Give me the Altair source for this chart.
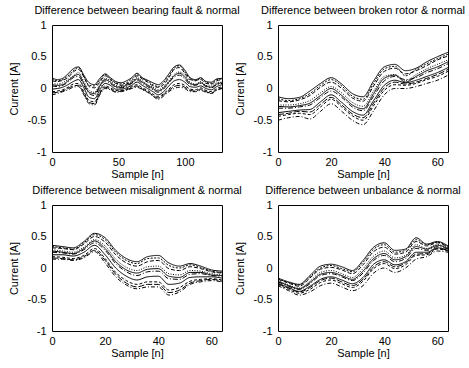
import altair as alt
import pandas as pd

FONT = "Liberation Sans, Arial, Helvetica, sans-serif"

# ---- Bearing fault (samples 0..128, read every 4 samples) ----
bearing_x = list(range(0, 129, 4))
bearing = {
    "c1": [0.17,0.14,0.16,0.23,0.31,0.34,0.21,0.09,0.06,0.16,0.23,0.17,0.11,0.09,0.12,0.17,0.24,0.17,0.13,0.09,0.06,0.12,0.23,0.34,0.37,0.29,0.17,0.14,0.17,0.11,0.10,0.15,0.16],
    "c2": [0.12,0.11,0.13,0.17,0.26,0.30,0.18,0.03,0.01,0.10,0.20,0.14,0.08,0.05,0.07,0.12,0.20,0.15,0.10,0.04,0.02,0.06,0.17,0.30,0.33,0.24,0.14,0.13,0.14,0.08,0.07,0.12,0.14],
    "c3": [0.08,0.07,0.09,0.14,0.20,0.25,0.11,-0.03,-0.06,0.06,0.16,0.12,0.05,0.03,0.06,0.10,0.17,0.12,0.06,0.02,-0.02,0.03,0.12,0.22,0.26,0.21,0.10,0.07,0.11,0.05,0.04,0.09,0.10],
    "c4": [0.04,0.03,0.05,0.10,0.17,0.19,0.05,-0.08,-0.11,0.02,0.12,0.08,0.02,0.01,0.03,0.08,0.13,0.08,0.03,-0.02,-0.06,-0.01,0.09,0.18,0.21,0.15,0.06,0.05,0.08,0.03,0.01,0.06,0.08],
    "c5": [-0.01,0.00,0.02,0.06,0.11,0.14,0.01,-0.14,-0.16,-0.02,0.08,0.05,-0.01,-0.01,0.01,0.05,0.10,0.05,0.00,-0.05,-0.10,-0.05,0.04,0.12,0.14,0.10,0.03,0.02,0.04,0.00,-0.02,0.03,0.06],
    "c6": [-0.05,-0.04,-0.02,0.02,0.07,0.08,-0.05,-0.19,-0.21,-0.06,0.04,0.01,-0.03,-0.03,-0.01,0.03,0.06,0.01,-0.03,-0.09,-0.13,-0.08,-0.01,0.06,0.08,0.05,-0.01,-0.02,0.01,-0.03,-0.05,0.00,0.03],
    "c7": [-0.10,-0.08,-0.05,-0.02,0.02,0.03,-0.10,-0.24,-0.26,-0.10,0.00,-0.02,-0.06,-0.05,-0.03,0.00,0.02,-0.02,-0.06,-0.12,-0.17,-0.12,-0.05,0.00,0.02,0.00,-0.05,-0.05,-0.03,-0.06,-0.08,-0.03,0.00],
    "c8": [0.15,0.12,0.14,0.20,0.28,0.33,0.19,0.05,0.04,0.13,0.22,0.15,0.09,0.07,0.09,0.15,0.22,0.16,0.12,0.06,0.03,0.09,0.20,0.32,0.36,0.26,0.16,0.12,0.16,0.10,0.08,0.14,0.15],
    "c9": [0.06,0.05,0.06,0.12,0.19,0.22,0.08,-0.06,-0.08,0.04,0.14,0.10,0.03,0.02,0.05,0.09,0.15,0.10,0.05,0.00,-0.04,0.01,0.10,0.20,0.24,0.18,0.08,0.06,0.09,0.04,0.02,0.07,0.09],
    "c10": [-0.07,-0.06,-0.04,0.00,0.04,0.05,-0.08,-0.22,-0.24,-0.08,0.02,-0.01,-0.05,-0.04,-0.02,0.01,0.04,-0.01,-0.05,-0.11,-0.15,-0.10,-0.03,0.03,0.05,0.02,-0.03,-0.04,-0.01,-0.05,-0.07,-0.02,0.01],
}

# ---- The other three panels (samples 0..64, read every 4 samples) ----
short_x = list(range(0, 65, 4))
rotor = {
    "c1": [-0.13,-0.16,-0.14,-0.04,0.08,0.17,0.07,-0.08,-0.13,0.12,0.34,0.38,0.28,0.32,0.42,0.50,0.57],
    "c2": [-0.19,-0.21,-0.18,-0.11,0.02,0.10,0.00,-0.15,-0.20,0.04,0.27,0.32,0.23,0.28,0.36,0.45,0.51],
    "c3": [-0.26,-0.26,-0.24,-0.19,-0.07,0.03,-0.07,-0.22,-0.28,-0.04,0.19,0.22,0.12,0.22,0.31,0.38,0.45],
    "c4": [-0.31,-0.31,-0.29,-0.26,-0.14,-0.04,-0.14,-0.29,-0.35,-0.12,0.12,0.19,0.14,0.17,0.25,0.31,0.39],
    "c5": [-0.38,-0.36,-0.34,-0.33,-0.21,-0.10,-0.22,-0.36,-0.42,-0.19,0.05,0.13,0.09,0.13,0.19,0.25,0.33],
    "c6": [-0.44,-0.41,-0.39,-0.41,-0.29,-0.17,-0.29,-0.43,-0.50,-0.27,-0.03,0.06,0.05,0.08,0.14,0.19,0.27],
    "c7": [-0.50,-0.46,-0.44,-0.48,-0.36,-0.24,-0.36,-0.50,-0.57,-0.35,-0.10,0.00,0.00,0.03,0.08,0.13,0.21],
    "c8": [-0.16,-0.19,-0.16,-0.08,0.05,0.14,0.04,-0.12,-0.17,0.08,0.31,0.35,0.20,0.30,0.39,0.47,0.54],
    "c9": [-0.28,-0.29,-0.27,-0.23,-0.11,0.00,-0.11,-0.26,-0.32,-0.08,0.16,0.21,0.10,0.19,0.28,0.34,0.42],
    "c10": [-0.41,-0.39,-0.36,-0.37,-0.25,-0.14,-0.26,-0.40,-0.46,-0.23,0.01,0.10,0.07,0.10,0.16,0.22,0.30],
}
misalign = {
    "c1": [0.36,0.34,0.32,0.42,0.55,0.48,0.28,0.15,0.10,0.18,0.20,0.08,0.03,0.07,0.03,-0.03,-0.05],
    "c2": [0.32,0.31,0.29,0.38,0.50,0.41,0.21,0.08,0.03,0.10,0.12,-0.01,-0.04,0.02,-0.01,-0.06,-0.08],
    "c3": [0.29,0.27,0.25,0.33,0.45,0.35,0.14,0.01,-0.04,0.02,0.03,-0.09,-0.11,-0.04,-0.05,-0.09,-0.11],
    "c4": [0.25,0.24,0.22,0.29,0.40,0.28,0.07,-0.06,-0.12,-0.06,-0.05,-0.17,-0.18,-0.10,-0.09,-0.12,-0.13],
    "c5": [0.21,0.21,0.19,0.25,0.36,0.21,0.00,-0.13,-0.19,-0.14,-0.13,-0.26,-0.24,-0.15,-0.14,-0.14,-0.16],
    "c6": [0.18,0.17,0.15,0.20,0.31,0.15,-0.07,-0.20,-0.26,-0.22,-0.22,-0.35,-0.31,-0.21,-0.18,-0.17,-0.19],
    "c7": [0.14,0.14,0.12,0.16,0.26,0.08,-0.14,-0.27,-0.33,-0.30,-0.30,-0.43,-0.38,-0.26,-0.22,-0.20,-0.22],
    "c8": [0.34,0.32,0.30,0.40,0.53,0.45,0.25,0.12,0.07,0.15,0.16,0.04,0.00,0.05,0.01,-0.05,-0.07],
    "c9": [0.27,0.25,0.23,0.31,0.43,0.31,0.10,-0.03,-0.08,-0.02,-0.01,-0.13,-0.15,-0.07,-0.07,-0.11,-0.12],
    "c10": [0.16,0.15,0.13,0.18,0.28,0.12,-0.10,-0.24,-0.30,-0.26,-0.26,-0.39,-0.35,-0.24,-0.20,-0.18,-0.21],
}
unbalance = {
    "c1": [-0.16,-0.22,-0.26,-0.12,0.03,0.06,0.02,-0.04,0.12,0.33,0.40,0.28,0.30,0.48,0.38,0.42,0.35],
    "c2": [-0.18,-0.24,-0.29,-0.16,-0.02,0.01,-0.03,-0.09,0.05,0.26,0.33,0.22,0.25,0.42,0.35,0.40,0.33],
    "c3": [-0.20,-0.27,-0.32,-0.21,-0.07,-0.04,-0.09,-0.15,-0.01,0.19,0.27,0.16,0.20,0.37,0.31,0.37,0.32],
    "c4": [-0.22,-0.29,-0.34,-0.25,-0.12,-0.09,-0.14,-0.20,-0.08,0.12,0.20,0.10,0.15,0.31,0.28,0.34,0.30],
    "c5": [-0.24,-0.31,-0.37,-0.29,-0.18,-0.14,-0.19,-0.25,-0.15,0.06,0.13,0.05,0.10,0.25,0.25,0.32,0.28],
    "c6": [-0.26,-0.34,-0.40,-0.34,-0.23,-0.19,-0.25,-0.31,-0.21,-0.01,0.07,-0.01,0.05,0.20,0.21,0.30,0.27],
    "c7": [-0.28,-0.36,-0.43,-0.38,-0.28,-0.24,-0.30,-0.36,-0.28,-0.08,0.00,-0.07,0.00,0.14,0.18,0.27,0.25],
    "c8": [-0.17,-0.23,-0.27,-0.14,0.00,0.04,-0.01,-0.06,0.09,0.30,0.37,0.25,0.28,0.45,0.37,0.41,0.34],
    "c9": [-0.21,-0.28,-0.33,-0.23,-0.10,-0.07,-0.12,-0.18,-0.05,0.15,0.23,0.13,0.18,0.34,0.30,0.36,0.31],
    "c10": [-0.25,-0.32,-0.38,-0.31,-0.20,-0.16,-0.22,-0.28,-0.18,0.02,0.10,0.02,0.08,0.22,0.23,0.31,0.28],
}

titles = [
    "Difference between bearing fault & normal",
    "Difference between broken rotor & normal",
    "Difference between misalignment & normal",
    "Difference between unbalance & normal",
]
y_ticks = [-1, -0.5, 0, 0.5, 1]
CURVES = list(bearing.keys())
DASHES = [[1, 0], [4, 2], [1, 1.5], [5, 2, 1, 2], [1, 0], [3, 2], [4, 2, 1, 2],
          [2, 1.5], [1, 0], [6, 2]]


def to_frame(xs, curves):
    rows = []
    for name, vals in curves.items():
        for x, v in zip(xs, vals):
            rows.append({"sample": x, "current": v, "curve": name})
    return pd.DataFrame(rows)


def panel(df, title, xmax, xticks, h):
    return (
        alt.Chart(df)
        .mark_line(color="black", strokeWidth=1.0, clip=True, interpolate="monotone")
        .encode(
            x=alt.X(
                "sample:Q",
                scale=alt.Scale(domain=[0, xmax], nice=False, zero=False),
                axis=alt.Axis(values=xticks, title="Sample [n]", labelExpr="datum.value + ''",
                              labelPadding=4, titleX=85, titleY=22, titleAlign="center",
                              titleBaseline="middle"),
            ),
            y=alt.Y(
                "current:Q",
                scale=alt.Scale(domain=[-1, 1], nice=False),
                axis=alt.Axis(values=y_ticks, title="Current [A]", labelExpr="datum.value + ''",
                              labelPadding=6, titleX=-38, titleY=h / 2, titleAngle=270,
                              titleAlign="center", titleBaseline="middle"),
            ),
            detail="curve:N",
            strokeDash=alt.StrokeDash("curve:N", scale=alt.Scale(domain=CURVES, range=DASHES), legend=None),
        )
        .properties(
            width=170,
            height=h,
            title=alt.TitleParams(title, fontSize=11, font=FONT, fontWeight="normal",
                                  color="black", offset=3, anchor="middle"),
        )
    )


p1 = panel(to_frame(bearing_x, bearing), titles[0], 128, [0, 50, 100], 127)
p2 = panel(to_frame(short_x, rotor), titles[1], 64, [0, 20, 40, 60], 127)
p3 = panel(to_frame(short_x, misalign), titles[2], 64, [0, 20, 40, 60], 126)
p4 = panel(to_frame(short_x, unbalance), titles[3], 64, [0, 20, 40, 60], 126)

chart = (
    alt.concat(p1, p2, p3, p4, columns=2)
    .properties(spacing={"row": 53, "column": 56}, bounds="flush",
                padding={"left": 7, "top": 4, "right": 0, "bottom": 0}, background="white")
    .configure_view(stroke="black", strokeWidth=1)
    .configure_axis(grid=False, domain=False, ticks=False, tickSize=0, labelFlush=False,
                    labelFont=FONT, labelFontSize=11, labelColor="black",
                    titleFont=FONT, titleFontSize=11, titleFontWeight="normal", titleColor="black")
)

chart.save("out.html", embed_options={"renderer": "svg", "actions": False})
